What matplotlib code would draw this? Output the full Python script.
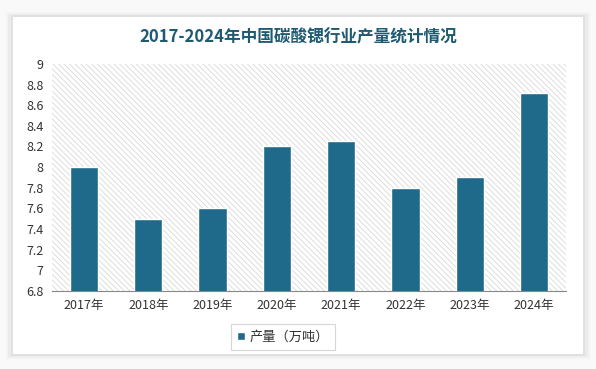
import matplotlib.pyplot as plt
from matplotlib.patches import Rectangle

plt.rcParams['font.family'] = ['Noto Sans CJK SC', 'DejaVu Sans']
plt.rcParams['hatch.color'] = '#d8d8d8'
plt.rcParams['hatch.linewidth'] = 0.6

years = ['2017年', '2018年', '2019年', '2020年', '2021年', '2022年', '2023年', '2024年']
output = [8.0, 7.5, 7.6, 8.2, 8.25, 7.8, 7.9, 8.72]
yticks = [6.8, 7, 7.2, 7.4, 7.6, 7.8, 8, 8.2, 8.4, 8.6, 8.8, 9]

fig = plt.figure(figsize=(5.96, 3.69), dpi=100, facecolor='#f9f9f9')

# card with soft shadow
for i, a in enumerate([0.025, 0.03, 0.04]):
    pad = (3 - i) * 0.004
    fig.patches.append(Rectangle((0.022 - pad, 0.04 - pad), 0.956 + 2 * pad, 0.915 + 2 * pad,
                                 transform=fig.transFigure, facecolor='black', alpha=a,
                                 edgecolor='none', zorder=-3))
fig.patches.append(Rectangle((0.022, 0.04), 0.956, 0.915, transform=fig.transFigure,
                             facecolor='white', edgecolor='none', zorder=-2))

ax = fig.add_axes([0.087, 0.211, 0.863, 0.616])
ax.set_facecolor('none')
ax.add_patch(Rectangle((0, 0), 1, 1, transform=ax.transAxes, facecolor='white',
                       hatch='\\\\\\\\\\\\', edgecolor='#d8d8d8', linewidth=0, zorder=0))

x = range(len(years))
ax.bar(x, output, width=0.44, color='#1f6a8a', edgecolor='white', linewidth=1,
       label='产量（万吨）', zorder=3)

ax.set_ylim(6.8, 9)
ax.set_xlim(-0.5, len(years) - 0.5)
ax.set_yticks(yticks)
ax.set_yticklabels([f'{v:g}' for v in yticks])
ax.set_xticks(list(x))
ax.set_xticklabels(years)
ax.tick_params(axis='both', length=0, labelsize=9, colors='#333333', pad=6)
for s in ['top', 'right', 'left']:
    ax.spines[s].set_visible(False)
ax.spines['bottom'].set_color('#888888')
ax.spines['bottom'].set_linewidth(0.8)

fig.text(0.5, 0.9, '2017-2024年中国碳酸锶行业产量统计情况', ha='center', va='center',
         fontsize=12, fontweight='bold', color='#1e5a72')

leg = fig.legend(loc='center', bbox_to_anchor=(0.475, 0.087), fontsize=9.5,
                 frameon=True, fancybox=False, edgecolor='#cccccc',
                 handlelength=0.6, handleheight=0.6, handletextpad=0.3,
                 borderpad=0.5)
leg.get_frame().set_linewidth(0.8)
for t in leg.get_texts():
    t.set_color('#333333')

fig.savefig('out.png', dpi=100)
